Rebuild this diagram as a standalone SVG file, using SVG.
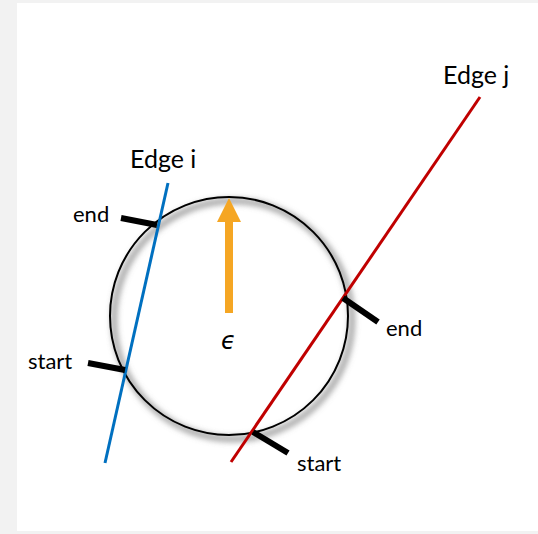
<svg xmlns="http://www.w3.org/2000/svg" width="538" height="534" viewBox="0 0 538 534">
<defs>
<filter id="sh" x="-20%" y="-20%" width="140%" height="140%">
<feGaussianBlur stdDeviation="3"/>
</filter>
<style>
.lbl{font-family:Lato,"Open Sans",sans-serif;font-size:22px;fill:#000}
.title{font-family:Lato,"Open Sans",sans-serif;font-size:25px;fill:#000}
.tick{stroke:#000;stroke-width:6;stroke-linecap:butt}
</style>
</defs>
<rect x="0" y="0" width="538" height="534" fill="#f2f2f2"/>
<rect x="17" y="3" width="521" height="528" fill="#fff"/>
<g id="circle">
<circle cx="233" cy="320" r="119" fill="none" stroke="#777" stroke-width="4" filter="url(#sh)"/>
<circle cx="229" cy="316" r="119" fill="none" stroke="#000" stroke-width="2"/>
</g>
<g id="arrow">
<rect x="225" y="220" width="8" height="93" fill="#f5a623"/>
<polygon points="229,198 241,222 217,222" fill="#f5a623"/>
<text x="221" y="349" font-family="'DejaVu Sans',sans-serif" font-style="italic" font-size="24">ϵ</text>
</g>
<g id="edge-i">
<line x1="168" y1="183" x2="105" y2="463" stroke="#0070c0" stroke-width="3"/>
<text class="title" x="130" y="168">Edge i</text>
</g>
<g id="edge-j">
<line x1="480" y1="97" x2="231" y2="462" stroke="#c00000" stroke-width="3"/>
<text class="title" x="443" y="84">Edge j</text>
</g>
<g id="connectors">
<line class="tick" x1="121" y1="218" x2="157" y2="225"/>
<line class="tick" x1="88" y1="363" x2="125" y2="370"/>
<line class="tick" x1="343" y1="298" x2="378" y2="322"/>
<line class="tick" x1="253" y1="432" x2="288" y2="453"/>
</g>
<g id="labels">
<text class="lbl" x="73" y="222">end</text>
<text class="lbl" x="28" y="369">start</text>
<text class="lbl" x="386" y="336">end</text>
<text class="lbl" x="297" y="471">start</text>
</g>
</svg>
